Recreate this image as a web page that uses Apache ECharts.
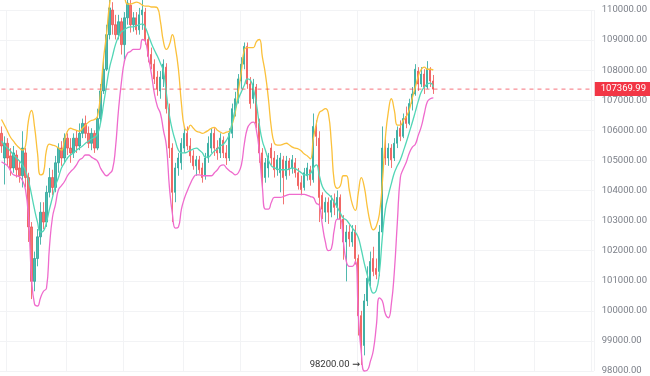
<!DOCTYPE html>
<html>
<head>
<meta charset="utf-8">
<script src="https://cdn.jsdelivr.net/npm/echarts@6/dist/echarts.min.js"></script>
<style>
  html, body { margin: 0; padding: 0; background: #fff; }
  #chart { width: 650px; height: 376px; }
</style>
</head>
<body>
<div id="chart"></div>
<script>
// OHLC per candle (145 candles)
const opens = [
  105900,105080,105570,105150,104750,105180,104750,104490,105250,104430,
  102790,100980,101740,102460,103280,102950,103940,104430,104100,104920,
  105410,105080,105740,105410,105250,105740,105480,105900,106230,105900,
  105570,105900,105410,106390,107310,108030,109180,110000,109510,109180,
  109610,108850,109740,110160,109510,109740,109340,109840,109930,109020,
  108520,108200,107770,107310,107710,108100,106720,105410,103940,104750,
  104920,105410,105900,105480,105150,104820,105020,104750,104490,105080,
  105410,105900,105410,105250,105670,105250,105080,105900,106660,107050,
  107640,108200,108790,107540,107050,107440,106230,105250,104430,104750,
  105410,105080,104690,104590,105020,104490,104980,104750,104920,104590,
  104260,104100,104490,104690,104360,106130,105740,103840,103280,103610,
  103280,103670,103440,103770,103050,102290,102620,102290,102620,101740,
  99840,98850,100330,100980,101740,101410,101310,102620,105410,105080,
  105410,105080,105570,106070,105800,106460,106230,106890,107210,107970,
  107540,107870,107440,108030,107640
];
const closes = [
  105480,105570,105080,104750,105250,104690,104490,105410,104430,102790,
  100980,101740,102460,103280,102950,103940,104430,104100,104920,105410,
  105080,105740,105410,105250,105740,105480,105900,106230,105900,105570,
  105900,105410,106390,107310,108030,109180,110070,109510,109180,109610,
  108850,109740,110230,109510,109740,109340,109840,110000,109020,108460,
  108200,107710,107380,107770,108200,106720,105410,103940,104750,105080,
  105570,105900,105480,105150,104820,105020,104690,104430,105080,105570,
  105900,105410,105250,105740,105250,105080,105900,106720,107050,107710,
  108200,108790,107540,106890,107540,106230,105250,104430,104920,105150,
  105080,104690,105020,105080,104430,104980,104690,105020,104590,104160,
  104030,104590,104750,104360,106130,105800,103770,103380,103610,103280,
  103670,103440,103770,103050,102290,102620,102390,102620,101740,99840,
  98850,100330,101080,101640,101310,101210,102620,105410,105080,105410,
  105020,105570,106000,105800,106390,106230,106890,107210,108030,107540,
  107870,107440,108030,107640,107369.99
];
const lows = [
  105250,104200,104820,104490,104590,104430,104260,104100,104100,102290,
  100390,100650,101480,102200,102720,102790,103770,103840,103940,104590,
  104820,104920,105180,104920,105080,105250,105340,105740,105740,105410,
  105340,105250,105340,106230,107210,107970,109020,109180,109020,109020,
  108520,108360,109510,109250,109280,109180,109180,109340,108850,108260,
  108030,107540,107150,107050,107440,106560,105080,102950,103610,104490,
  104690,105250,105340,104920,104690,104490,104560,104260,104360,104920,
  105250,105150,105020,105080,105080,104850,104980,105740,106460,106890,
  107380,108030,107380,106720,106890,106070,104920,104100,104260,104430,
  104850,104430,104490,103940,103540,104360,104490,104560,104430,104030,
  103840,104000,104330,104160,104260,105480,102950,103050,102950,102890,
  103110,103180,103050,102720,101700,100980,102130,102130,101540,99180,
  98200,98520,100160,100820,101150,101050,101150,102460,104850,104820,
  104750,104980,105410,105640,105740,106070,106170,106660,107150,107310,
  107440,107210,107380,107440,107210
];
const highs = [
  106130,105800,105740,105410,105480,105340,104980,105970,105410,104590,
  102950,101970,102720,103610,103610,104160,104750,104690,105150,105570,
  105640,105900,105900,105740,105900,106000,106230,106390,106490,106130,
  106070,106000,106720,107540,108300,109510,110490,110260,109840,109840,
  109740,109930,110490,110330,109930,109930,110070,110330,110070,109180,
  108750,108360,107970,107970,108360,108230,106890,105570,104920,105250,
  105740,106070,106130,105740,105340,105150,105150,104920,105250,105800,
  106070,106070,105670,105900,105800,105510,106070,106890,107280,107870,
  108430,108920,108920,107770,107710,107540,106390,105410,105080,105250,
  105570,105310,105180,105250,105150,105150,105080,105180,105080,104750,
  104490,104750,104920,104820,106560,106330,105970,103940,103770,103770,
  103840,103900,104000,103870,103180,102850,102850,102850,102850,101870,
  100000,100560,101480,101970,102130,101740,102850,106130,105740,105570,
  105540,105740,106130,106330,106560,106790,107050,107440,108200,108100,
  108100,108030,108300,108100,107840
];

// band lines: upper (yellow), middle (teal), lower (pink)
const upperBand = [
  106360,106170,105970,105770,105640,105510,105410,105340,105480,106330,
  106660,106130,105250,104520,104590,105340,105540,105510,105480,105410,
  105340,105670,105970,106070,106030,106000,105970,106070,106170,106270,
  106330,106360,106460,107210,108360,109180,110160,110660,110820,110820,
  110720,110430,110200,110200,110230,110260,110230,110160,110130,110130,
  110100,110100,110070,109610,108950,108690,108850,109180,108750,108030,
  106890,106100,106000,106170,106070,105970,105940,105900,105940,106000,
  106070,106100,106000,105940,105900,105940,105970,106230,106620,107310,
  107970,108690,108750,108750,108750,108950,109020,108430,107870,107050,
  106070,105570,105510,105510,105540,105570,105510,105440,105410,105380,
  105310,105210,105150,105050,105740,106230,106590,106660,106720,106560,
  105570,104260,104070,104160,104490,104490,104000,103540,103340,103940,
  104430,104100,103440,102920,102690,102820,103210,104260,105740,106620,
  107050,106660,106170,106170,106330,106460,106690,107080,107440,107800,
  108030,108100,108030,108030,108000
];
const midBand = [
  105640,105510,105410,105310,105180,105080,104980,104850,104660,104330,
  103870,103380,102950,102620,102660,102950,103380,103770,104160,104430,
  104750,104920,105080,105180,105250,105340,105410,105480,105570,105640,
  105710,105770,105870,106230,106850,107480,108070,108460,108850,109110,
  109280,109340,109410,109440,109440,109480,109510,109540,109410,109150,
  108890,108660,108460,108230,107970,107210,106490,106000,105640,105340,
  105250,105250,105280,105340,105380,105410,105340,105250,105110,105110,
  105210,105310,105380,105480,105540,105670,105870,106300,106720,107050,
  107280,107510,107710,107670,107380,106890,106170,105640,105340,105020,
  104820,104750,104720,104690,104690,104690,104720,104750,104720,104660,
  104590,104520,104520,104560,104750,104850,104490,104130,103970,103870,
  103770,103610,103440,103250,103080,103020,102890,102750,102620,102430,
  102030,101570,101180,100790,100590,100690,101250,102460,103380,103840,
  104230,104590,104820,105020,105310,105610,105940,106270,106620,106980,
  107280,107440,107540,107570,107440
];
const lowerBand = [
  104950,104890,104820,104660,104520,104490,104460,104330,104030,103110,
  101150,100230,100160,100430,100650,100750,102130,103110,103540,104030,
  104160,104300,104490,104620,104720,104850,105020,105080,105180,105180,
  105110,105050,104980,104750,104590,104490,104560,104690,105410,106660,
  107610,108300,108560,108620,108690,108690,108690,109020,108950,108430,
  107870,107210,106790,106560,106000,105480,104100,103210,102750,102790,
  103380,103740,104000,104230,104430,104520,104520,104490,104490,104490,
  104490,104590,104690,104820,104850,104750,104660,104590,104520,104590,
  104850,105570,106070,106230,106270,106000,105250,104100,103380,103380,
  103610,103770,103770,103770,103800,103840,103870,103870,103870,103870,
  103870,103870,103840,103800,103770,103570,103510,102850,102290,102000,
  102070,102720,103050,103050,102290,101640,101480,101480,101640,99840,
  98590,98000,98030,98320,98690,99510,100430,100330,99900,99770,
  100230,101310,102950,104430,104720,104950,105250,105440,105540,105840,
  106130,106560,106950,107050,107080
];

const lastPrice = 107369.99;
const lowPrice = 98200;
const lowIndex = 120;

// x slots: candles plus empty room on the right
const slotCount = 198;
const categories = Array.from({ length: slotCount }, (_, i) => String(i + 1));
const gridCols = [2, 22, 41, 61, 80, 100, 119, 139, 158, 178, 197];

const ohlc = opens.map((o, i) => [o, closes[i], lows[i], highs[i]]);
// last price line runs across the whole plot
const priceLine = [[categories[0], lastPrice], [categories[slotCount - 1], lastPrice]];

const chart = echarts.init(document.getElementById('chart'));
const gridColor = '#f2f3f5';
const font = 'Roboto, "DejaVu Sans", sans-serif';
const lastColor = '#f23645';

chart.setOption({
  animation: false,
  backgroundColor: '#ffffff',
  grid: { left: 0, right: 55, top: 10, bottom: 1 },
  xAxis: {
    type: 'category',
    data: categories,
    boundaryGap: true,
    axisLine: { show: false },
    axisTick: { show: false },
    axisLabel: { show: false },
    splitLine: {
      show: true,
      interval: (i) => gridCols.includes(i),
      lineStyle: { color: gridColor, width: 1 }
    }
  },
  yAxis: {
    type: 'value',
    position: 'right',
    min: 98000,
    max: 110000,
    interval: 1000,
    axisLine: { show: false },
    axisTick: { show: false },
    axisLabel: {
      color: '#7b7f88',
      fontSize: 9.5,
      fontFamily: font,
      margin: 8,
      formatter: (v) => v.toFixed(2)
    },
    splitLine: { lineStyle: { color: gridColor, width: 1 } }
  },
  series: [
    {
      type: 'candlestick',
      data: ohlc,
      barWidth: 1.6,
      clip: false,
      itemStyle: {
        color: '#26a69a',
        color0: '#ef5350',
        borderColor: '#26a69a',
        borderColor0: '#ef5350',
        borderWidth: 1,
        opacity: 0.8
      },
      markPoint: {
        symbol: 'circle',
        symbolSize: 1,
        itemStyle: { color: 'rgba(0,0,0,0)' },
        label: {
          position: 'left',
          distance: 1,
          color: '#333333',
          fontSize: 9.5,
          fontFamily: font,
          formatter: lowPrice.toFixed(2) + ' \u2192'
        },
        data: [{ coord: [lowIndex, lowPrice] }]
      }
    },
    {
      name: 'upper',
      type: 'line',
      data: upperBand,
      smooth: true,
      symbol: 'none',
      clip: false,
      lineStyle: { color: '#fbc13b', width: 1.3 }
    },
    {
      name: 'middle',
      type: 'line',
      data: midBand,
      smooth: true,
      symbol: 'none',
      clip: false,
      lineStyle: { color: '#52d6b6', width: 1.3 }
    },
    {
      name: 'lower',
      type: 'line',
      data: lowerBand,
      smooth: true,
      symbol: 'none',
      clip: false,
      lineStyle: { color: '#ef6bcd', width: 1.3 }
    },
    {
      name: 'last',
      type: 'line',
      data: priceLine,
      symbol: 'none',
      silent: true,
      z: 5,
      lineStyle: { color: 'rgba(242,54,69,0.7)', type: [4, 4], width: 1 },
      itemStyle: { color: lastColor },
      markPoint: {
        symbol: 'circle',
        symbolSize: 1,
        itemStyle: { color: 'rgba(0,0,0,0)' },
        label: {
          position: 'right',
          distance: 2,
          formatter: lastPrice.toFixed(2),
          color: '#ffffff',
          backgroundColor: lastColor,
          fontSize: 9.5,
          fontFamily: font,
          padding: [2, 5, 2, 6]
        },
        data: [{ coord: [categories[slotCount - 1], lastPrice] }]
      }
    }
  ]
});
</script>
</body>
</html>
